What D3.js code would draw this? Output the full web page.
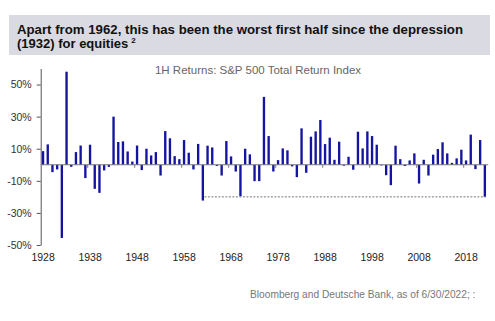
<!DOCTYPE html>
<html>
<head>
<meta charset="utf-8">
<script src="https://cdn.jsdelivr.net/npm/d3@7"></script>
<style>
  html, body { margin: 0; padding: 0; background: #fff; }
  svg { display: block; font-family: 'Liberation Sans', Arial, sans-serif; }
</style>
</head>
<body>
<svg id="chart" width="495" height="321"></svg>
<script>
// first-half total returns of the S&P 500, in percent
const years = d3.range(1928, 2023);
const returns = [
  8.5, 12.7, -4.6, -2.9, -45.6, 58, -1.3, 7.9, 12, -8.3,
  12.5, -15, -17.5, -3.5, -1.3, 30, 14.2, 14.6, 8.3, 2,
  12, -3.3, 10, 5.8, 7.9, -6.7, 21, 16.5, 5.4, 3.5,
  15.4, 7.5, -2.9, 13, -22.3, 11.9, 10.8, -0.7, -6.7, 14.8,
  5.2, -4.2, -19.6, 10, 6.5, -10.2, -10.2, 42.3, 17.9, -4.2,
  2.9, 10.2, 9, -1, -7.7, 22.7, -5, 17.5, 20.8, 27.9,
  12.9, 16.9, 3.1, 14.4, -0.6, 5, -3.1, 20.6, 10.2, 20.8,
  17.9, 12.5, -0.4, -6.5, -12.7, 11.9, 3.5, -0.8, 2.7, 7.1,
  -11.7, 3.1, -6.7, 6.3, 9.8, 14, 7.1, 1.2, 4, 9.4,
  2.7, 18.8, -2.7, 15.4, -20,
];
const yTicks = [50, 30, 10, -10, -30, -50];
const xLabelYears = [1928, 1938, 1948, 1958, 1968, 1978, 1988, 1998, 2008, 2018];

const title = ['Apart from 1962, this has been the worst first half since the depression', '(1932) for equities'];
const subtitle = '1H Returns: S&P 500 Total Return Index';
const source = 'Bloomberg and Deutsche Bank, as of 6/30/2022; :';

const data = years.map((year, i) => ({ year, value: returns[i] }));

const svg = d3.select('#chart');

const plot = { l: 40.7, r: 487.2, t: 68.5, b: 245 };

const x = d3.scaleBand()
  .domain(years)
  .range([plot.l, plot.r])
  .paddingInner(0.5)
  .paddingOuter(0.25);

const y = d3.scaleLinear()
  .domain([-50, 60])
  .range([plot.b, plot.t]);

// header band
const header = svg.append('g');
header.append('rect')
  .attr('x', 9)
  .attr('y', 15)
  .attr('width', 481)
  .attr('height', 40)
  .style('fill', '#dadae2');

const headerText = header.append('text')
  .style('font-weight', 700)
  .style('font-size', '13px')
  .style('fill', '#111');

headerText.append('tspan')
  .attr('x', 17)
  .attr('y', 34)
  .attr('textLength', 446)
  .attr('lengthAdjust', 'spacingAndGlyphs')
  .text(title[0]);

headerText.append('tspan')
  .attr('x', 17)
  .attr('y', 48)
  .text(title[1]);

headerText.append('tspan')
  .attr('dx', 3)
  .attr('dy', -5)
  .style('font-size', '8px')
  .text('2');

svg.append('text')
  .attr('x', 258)
  .attr('y', 74)
  .style('text-anchor', 'middle')
  .style('font-size', '11.5px')
  .style('fill', '#666')
  .text(subtitle);

// y axis
const yAxis = d3.axisLeft(y)
  .tickValues(yTicks)
  .tickSizeInner(4)
  .tickSizeOuter(0)
  .tickPadding(5)
  .tickFormat((d) => `${d}%`);

const yAxisG = svg.append('g')
  .attr('transform', `translate(${plot.l}, 0)`)
  .call(yAxis);

yAxisG.select('.domain').style('stroke', '#555');
yAxisG.selectAll('.tick line').style('stroke', '#555');
yAxisG.selectAll('.tick text')
  .style('font-family', "'Liberation Sans', Arial, sans-serif")
  .style('font-size', '10.5px')
  .style('fill', '#333');

// bars
svg.append('g')
  .selectAll('rect')
  .data(data)
  .enter()
  .append('rect')
  .attr('x', (d) => x(d.year))
  .attr('width', x.bandwidth())
  .attr('y', (d) => y(Math.max(0, d.value)))
  .attr('height', (d) => Math.abs(y(d.value) - y(0)))
  .style('fill', '#1414a0');

// zero line with decade ticks between categories
const zero = svg.append('g');
zero.append('line')
  .attr('x1', plot.l)
  .attr('x2', plot.r + 1)
  .attr('y1', y(0))
  .attr('y2', y(0))
  .style('stroke', '#777')
  .style('stroke-width', 1.2);

zero.selectAll('.decade-tick')
  .data(xLabelYears.slice(1))
  .enter()
  .append('line')
  .attr('class', 'decade-tick')
  .attr('x1', (d) => x(d) - (x.step() - x.bandwidth()) / 2)
  .attr('x2', (d) => x(d) - (x.step() - x.bandwidth()) / 2)
  .attr('y1', y(0))
  .attr('y2', y(0) + 3)
  .style('stroke', '#777');

// x labels
const xAxis = d3.axisBottom(x)
  .tickValues(xLabelYears)
  .tickSize(0)
  .tickPadding(0);

const xAxisG = svg.append('g')
  .attr('transform', 'translate(0, 254)')
  .call(xAxis);

xAxisG.select('.domain').remove();
xAxisG.selectAll('.tick text')
  .style('font-family', "'Liberation Sans', Arial, sans-serif")
  .style('font-size', '10.5px')
  .style('fill', '#222');

// reference line from 1962 to the latest year
const last = data[data.length - 1];
svg.append('line')
  .attr('x1', x(1963) - 2)
  .attr('x2', x(last.year) + x.bandwidth())
  .attr('y1', y(last.value))
  .attr('y2', y(last.value))
  .style('stroke', '#777')
  .style('stroke-dasharray', '2,1.5');

svg.append('text')
  .attr('x', 250)
  .attr('y', 298)
  .style('font-size', '10.2px')
  .style('fill', '#777')
  .text(source);
</script>
</body>
</html>
